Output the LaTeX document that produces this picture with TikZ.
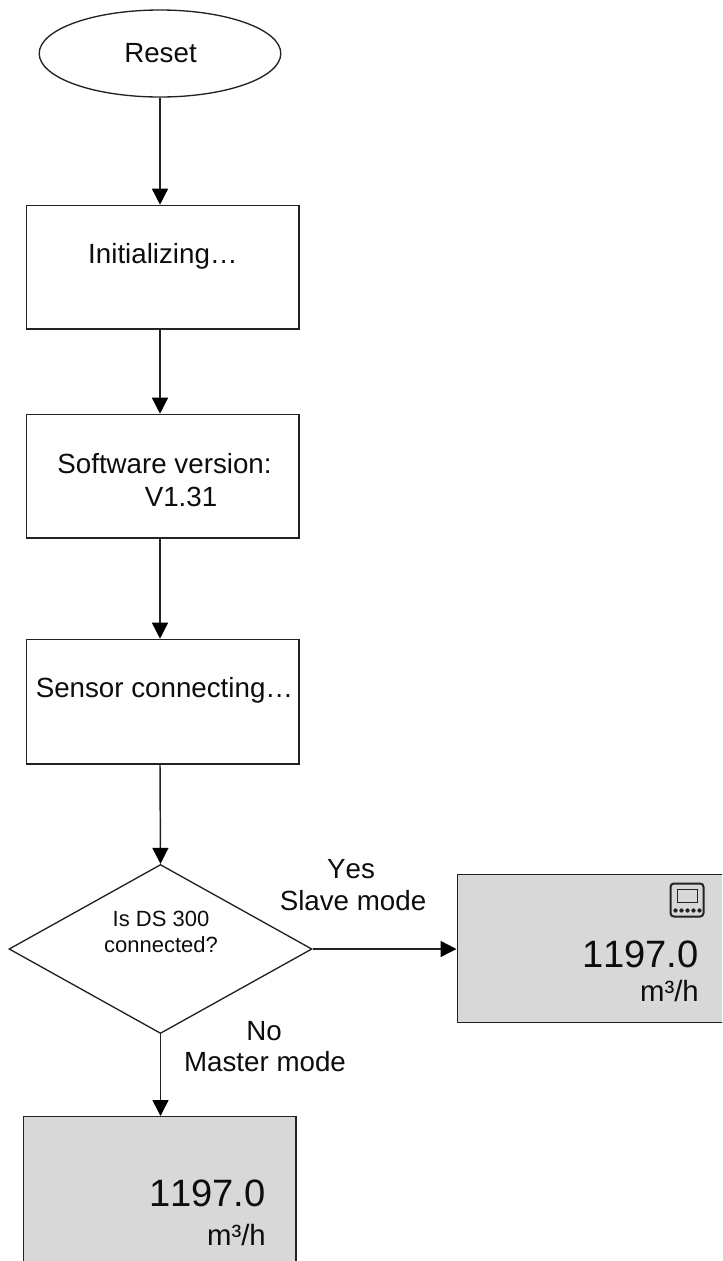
\documentclass[tikz,border=0pt]{standalone}
\usepackage{fontspec}
\setmainfont{Liberation Sans}[Kerning=Off]
\usetikzlibrary{shapes.geometric,arrows.meta}
\definecolor{linegray}{HTML}{222222}
\definecolor{panelgray}{HTML}{D8D8D8}
\tikzset{
  x=0.75pt,y=-0.75pt,
  box/.style={draw=linegray,line width=1pt,rectangle,inner sep=0pt,anchor=north west},
  panel/.style={box,fill=panelgray},
  conn/.style={draw=linegray,line width=1.1pt,-{Triangle[length=12pt,width=12pt,color=black]},shorten >=0pt},
  lab/.style={inner sep=0pt,font=\fontsize{20.8}{25}\selectfont,text=black!95,anchor=base},
  big/.style={inner sep=0pt,font=\fontsize{28.6}{32}\selectfont,text=black!95,anchor=base east},
  unit/.style={inner sep=0pt,font=\fontsize{22}{25}\selectfont,text=black!95,anchor=base east},
  small/.style={inner sep=0pt,font=\fontsize{16.5}{18.75}\selectfont,text=black!95,anchor=base},
}
\begin{document}
\begin{tikzpicture}
\useasboundingbox (0,0) rectangle (722,1261);
\clip (0,0) rectangle (722,1261);
\node[draw=linegray,line width=1pt,ellipse,inner sep=0pt,minimum width=181.2pt,minimum height=65.25pt] (reset) at (160,53.5) {};
\node[lab] (resetlab) at (160.5,62) {Reset};
\node[box,minimum width=204.2pt,minimum height=92.8pt] (init) at (26,204.7) {};
\node[lab] (initlab) at (163,263) {Initializing…};
\node[box,minimum width=204.2pt,minimum height=92.8pt] (soft) at (26,413.7) {};
\node[lab] (softlab) at (164.5,473) {Software version:};
\node[lab] (softver) at (181,506) {V1.31};
\node[box,minimum width=204.2pt,minimum height=93.5pt] (sensor) at (26,638.7) {};
\node[lab] (sensorlab) at (164.5,697) {Sensor connecting…};
\node[draw=linegray,line width=1pt,diamond,inner sep=0pt,aspect=1.8,minimum width=227.25pt,minimum height=126.75pt] (dec) at (160.5,949) {};
\node[small] (declab) at (161,926) {Is DS 300};
\node[small] (declab2) at (161,952) {connected?};
\node[panel,minimum width=225pt,minimum height=111pt] (slave) at (456.5,874) {};
\node[panel,minimum width=204.2pt,minimum height=140pt] (master) at (23,1116) {};
\node[lab] (yes) at (351,878) {Yes};
\node[lab] (slavelab) at (353,910) {Slave mode};
\node[lab] (no) at (264,1040) {No};
\node[lab] (masterlab) at (265,1071) {Master mode};
\node[big] (v1) at (699,967) {1197.0};
\node[unit] (u1) at (699,1001) {m³/h};
\node[big] (v2) at (266,1206) {1197.0};
\node[unit] (u2) at (266,1245) {m³/h};
\draw[conn] (reset.south) -- (reset.south |- init.north);
\draw[conn] (reset.south |- init.south) -- (reset.south |- soft.north);
\draw[conn] (reset.south |- soft.south) -- (reset.south |- sensor.north);
\draw[conn] (reset.south |- sensor.south) -- (dec.north);
\draw[conn] (dec.east) -- (dec.east -| slave.west);
\draw[conn] (dec.south) -- (dec.south |- master.north);
% display icon
\draw[linegray,line width=1.5pt,rounded corners=2.5pt] (670.5,883.5) rectangle (703.5,916.5);
\draw[linegray,line width=1.3pt] (677.5,889.5) rectangle (697.5,902.5);
\foreach \px in {675.5,681.5,687.5,693.5,699.5}
  \fill[linegray] (\px,910.5) circle (1.6pt);
\end{tikzpicture}
\end{document}
